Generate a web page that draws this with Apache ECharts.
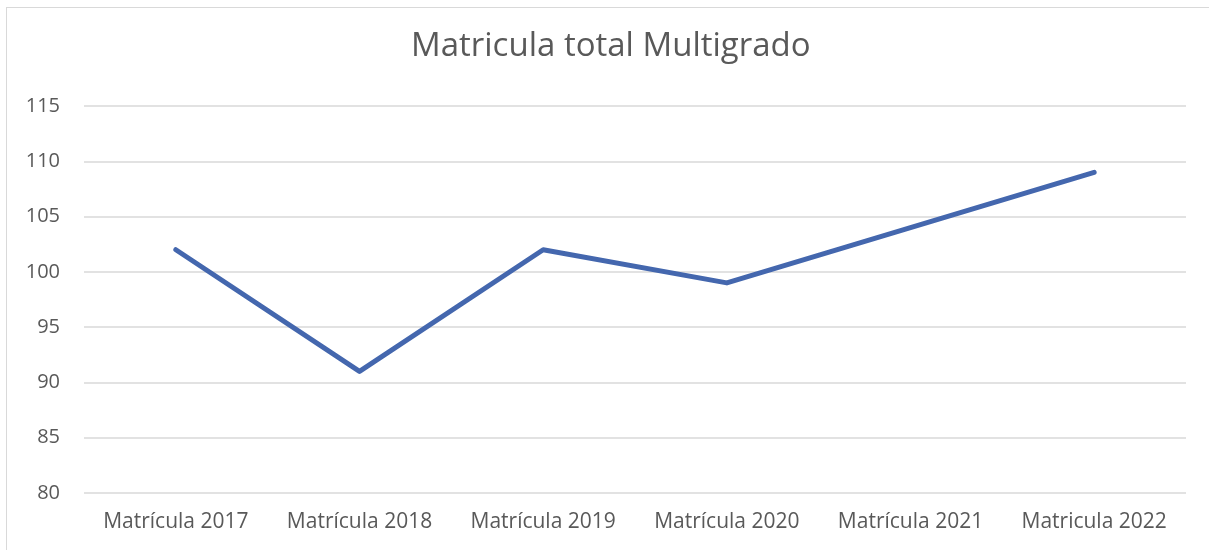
<!DOCTYPE html>
<html>
<head>
<meta charset="utf-8">
<script src="https://cdn.jsdelivr.net/npm/echarts@6/dist/echarts.min.js"></script>
<style>
html,body{margin:0;padding:0;background:#fff;}
#frame{position:absolute;left:6px;top:7px;width:1220px;height:560px;border-left:1px solid #d9d9d9;border-top:1px solid #d9d9d9;}
#c{position:absolute;left:0;top:0;width:1209px;height:550px;}
</style>
</head>
<body>
<div id="frame"></div>
<div id="c"></div>
<script>
const titleText = 'Matricula total Multigrado';
const categories = ['Matrícula 2017','Matrícula 2018','Matrícula 2019','Matrícula 2020','Matrícula 2021','Matricula 2022'];
const values = [102, 91, 102, 99, 104, 109];
const yMin = 80, yMax = 115, yStep = 5;

const chart = echarts.init(document.getElementById('c'), null, {renderer:'canvas'});
chart.setOption({
  animation:false,
  title:{text:titleText,left:406,top:25,textStyle:{fontFamily:'Open Sans',fontSize:33,fontWeight:'normal',color:'#595959'}},
  grid:{left:84,right:23,top:106,bottom:57},
  xAxis:{type:'category',data:categories,boundaryGap:true,
    axisLine:{show:false},axisTick:{show:false},
    axisLabel:{interval:0,hideOverlap:false,fontFamily:'Open Sans',fontSize:21,color:'#595959',margin:19}},
  yAxis:{type:'value',min:yMin,max:yMax,interval:yStep,
    axisLine:{show:false},axisTick:{show:false},
    splitLine:{lineStyle:{color:'#d9d9d9',width:1.5}},
    axisLabel:{fontFamily:'Open Sans',fontSize:20,color:'#595959',margin:24}},
  series:[{type:'line',data:values,symbol:'none',lineStyle:{color:'#4467AE',width:5,cap:'round',join:'round'}}]
});
</script>
</body>
</html>
